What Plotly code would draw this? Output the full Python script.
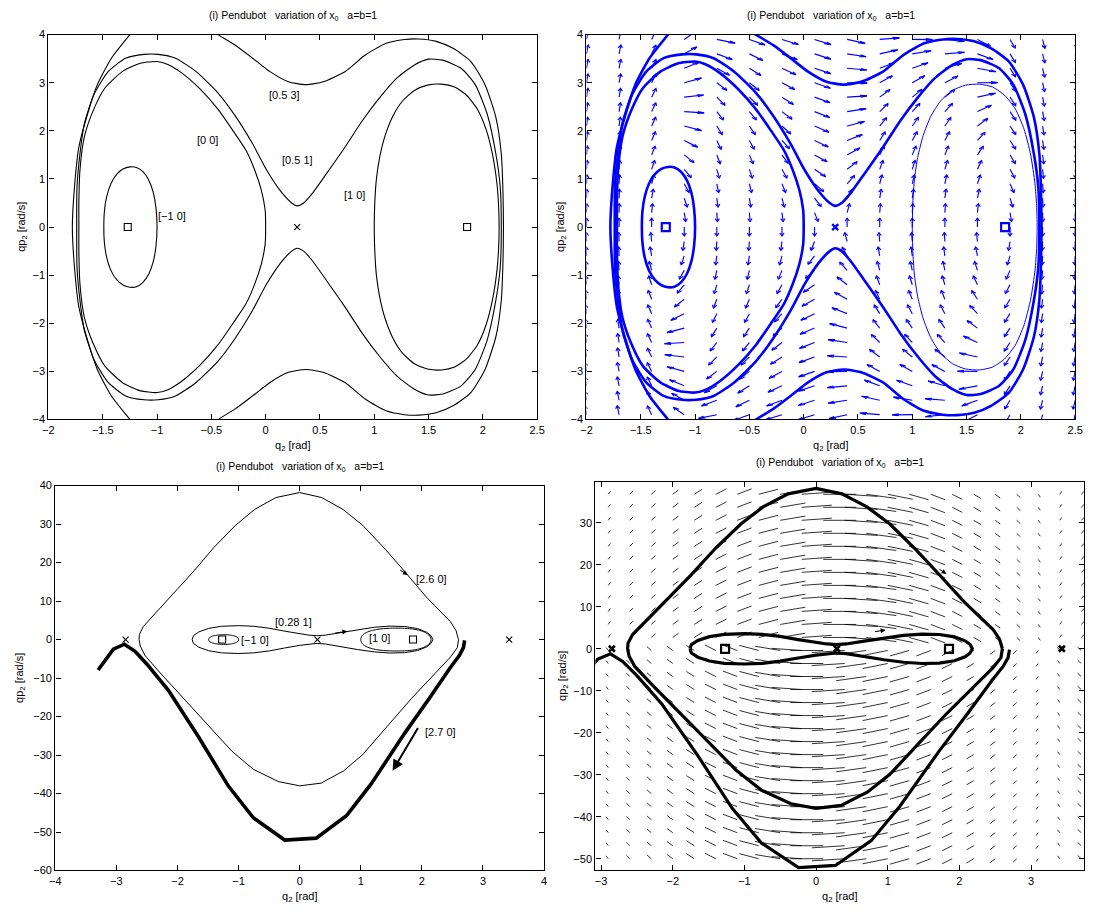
import math
import plotly.graph_objects as go

FIG_W, FIG_H = 1097, 914
FONT = "Liberation Sans, Arial, Helvetica, sans-serif"
BLUE = "#0000ff"
BLACK = "#000000"
NB = "\u00a0"

TITLE = "(i) Pendubot" + NB * 3 + "variation of x<sub>0</sub>" + NB * 3 + "a=b=1"
XLABEL = "q<sub>2</sub> [rad]"
YLABEL = "qp<sub>2</sub> [rad/s]"

# ---------------------------------------------------------------------------
# Phase-plane orbits, q2 [rad] vs qp2 [rad/s], labelled by initial state x0
# ---------------------------------------------------------------------------
# x0 = [-1 0]
orb_m10_q = [-1.0, -1.01, -1.035, -1.075, -1.13, -1.19, -1.25, -1.31, -1.37, -1.425, -1.465, -1.485, -1.49,
             -1.485, -1.465, -1.425, -1.37, -1.31, -1.25, -1.19, -1.13, -1.075, -1.035, -1.01, -1.0]
orb_m10_p = [0, 0.4, 0.72, 0.97, 1.15, 1.24, 1.25, 1.21, 1.10, 0.9, 0.62, 0.32, 0,
             -0.32, -0.62, -0.9, -1.10, -1.21, -1.25, -1.24, -1.15, -0.97, -0.72, -0.4, 0]

# x0 = [0 0]
orb_00_q = [0.0, -0.005, -0.04, -0.10, -0.18, -0.30, -0.44, -0.60, -0.77, -0.90, -1.0, -1.16, -1.32, -1.48, -1.59, -1.67,
            -1.71, -1.72, -1.72,
            -1.72, -1.71, -1.67, -1.59, -1.48, -1.32, -1.16, -1.0, -0.90, -0.77, -0.60, -0.44, -0.30, -0.18, -0.10,
            -0.04, -0.005, 0.0]
orb_00_p = [0, 0.36, 0.77, 1.18, 1.59, 2.0, 2.45, 2.86, 3.2, 3.38, 3.44, 3.40, 3.23, 2.89, 2.41, 1.87, 1.18, 0.5, 0,
            -0.5, -1.18, -1.87, -2.41, -2.89, -3.23, -3.40, -3.44, -3.38, -3.2, -2.86, -2.45, -2.0, -1.59, -1.18,
            -0.77, -0.36, 0]

# x0 = [0.5 1]
orb_051_q = [-1.74, -1.737, -1.71, -1.67, -1.58, -1.45, -1.29, -1.12, -0.99, -0.83, -0.64, -0.44, -0.28, -0.12, 0.01,
             0.14, 0.24, 0.29, 0.35, 0.43, 0.56, 0.73, 0.89, 1.05, 1.21, 1.37, 1.50, 1.63, 1.80, 1.93, 2.04, 2.12,
             2.16, 2.17,
             2.16, 2.12, 2.04, 1.93, 1.80, 1.63, 1.50, 1.37, 1.21, 1.05, 0.89, 0.73, 0.56, 0.43, 0.35, 0.29, 0.24,
             0.14, 0.01, -0.12, -0.28, -0.44, -0.64, -0.83, -0.99, -1.12, -1.29, -1.45, -1.58, -1.67, -1.71, -1.737,
             -1.74]
orb_051_p = [0, 0.84, 1.52, 2.14, 2.76, 3.23, 3.51, 3.59, 3.59, 3.51, 3.23, 2.79, 2.31, 1.73, 1.18, 0.74, 0.50, 0.44,
             0.50, 0.70, 1.11, 1.66, 2.21, 2.69, 3.10, 3.37, 3.49, 3.47, 3.30, 2.96, 2.35, 1.52, 0.84, 0,
             -0.84, -1.52, -2.35, -2.96, -3.30, -3.47, -3.49, -3.37, -3.10, -2.69, -2.21, -1.66, -1.11, -0.70, -0.50,
             -0.44, -0.50, -0.74, -1.18, -1.73, -2.31, -2.79, -3.23, -3.51, -3.59, -3.59, -3.51, -3.23, -2.76, -2.14,
             -1.52, -0.84, 0]

# x0 = [0.5 3] (leaves the window at the top and bottom)
orb_053a_q = [-1.18, -1.25, -1.42, -1.55, -1.64, -1.72, -1.76, -1.78, -1.76, -1.72, -1.64, -1.55, -1.42, -1.25, -1.18]
orb_053a_p = [4.2, 4.0, 3.51, 2.96, 2.35, 1.66, 0.84, 0, -0.84, -1.66, -2.35, -2.96, -3.51, -4.0, -4.2]
orb_053b_q = [-0.58, -0.44, -0.28, -0.12, 0.04, 0.21, 0.37, 0.53, 0.73, 0.92, 1.11, 1.28, 1.41, 1.57, 1.73, 1.89,
              2.02, 2.12, 2.17, 2.185, 2.19,
              2.185, 2.17, 2.12, 2.02, 1.89, 1.73, 1.57, 1.41, 1.28, 1.11, 0.92, 0.73, 0.53, 0.37, 0.21, 0.04, -0.12,
              -0.28, -0.44, -0.58]
orb_053b_p = [4.2, 4.0, 3.78, 3.51, 3.23, 3.02, 2.96, 3.02, 3.23, 3.58, 3.82, 3.90, 3.91, 3.86, 3.71, 3.44, 2.96,
              2.28, 1.52, 0.77, 0,
              -0.77, -1.52, -2.28, -2.96, -3.44, -3.71, -3.86, -3.91, -3.90, -3.82, -3.58, -3.23, -3.02, -2.96, -3.02,
              -3.23, -3.51, -3.78, -4.0, -4.2]

# x0 = [1 0]
orb_10_q = [1.0, 1.005, 1.02, 1.05, 1.10, 1.17, 1.26, 1.37, 1.49, 1.62, 1.74, 1.85, 1.95, 2.03, 2.09, 2.13, 2.145, 2.15,
            2.145, 2.13, 2.09, 2.03, 1.95, 1.85, 1.74, 1.62, 1.49, 1.37, 1.26, 1.17, 1.10, 1.05, 1.02, 1.005, 1.0]
orb_10_p = [0, 0.5, 1.0, 1.45, 1.9, 2.3, 2.62, 2.84, 2.95, 2.97, 2.91, 2.74, 2.45, 2.03, 1.5, 0.9, 0.45, 0,
            -0.45, -0.9, -1.5, -2.03, -2.45, -2.74, -2.91, -2.97, -2.95, -2.84, -2.62, -2.3, -1.9, -1.45, -1.0, -0.5, 0]

# x0 = [0.28 1]
orb_281_q = [-1.76, -1.74, -1.65, -1.49, -1.28, -1.0, -0.75, -0.5, -0.25, 0.0, 0.15, 0.28, 0.42, 0.65, 0.95, 1.22,
             1.48, 1.72, 1.93, 2.08, 2.15, 2.18,
             2.15, 2.08, 1.93, 1.72, 1.48, 1.22, 0.95, 0.65, 0.42, 0.28, 0.15, 0.0, -0.25, -0.5, -0.75, -1.0, -1.28,
             -1.49, -1.65, -1.74, -1.76]
orb_281_p = [0, 1.0, 2.0, 2.9, 3.45, 3.62, 3.45, 2.95, 2.2, 1.5, 1.15, 1.0, 1.15, 1.75, 2.6, 3.2, 3.5, 3.4, 2.85,
             1.9, 1.0, 0,
             -1.0, -1.9, -2.85, -3.4, -3.5, -3.2, -2.6, -1.75, -1.15, -1.0, -1.15, -1.5, -2.2, -2.95, -3.45, -3.62,
             -3.45, -2.9, -2.0, -1.0, 0]

# x0 = [2.6 0]
orb_260_q = [2.60, 2.56, 2.47, 2.30, 2.07, 1.75, 1.40, 1.03, 0.71, 0.36, 0.0, -0.39, -0.74, -1.05, -1.40, -1.75,
             -2.09, -2.38, -2.56, -2.625, -2.63, -2.61, -2.53, -2.27, -1.92, -1.52, -1.11, -0.76, -0.35, 0.0, 0.35,
             0.72, 1.03, 1.43, 1.83, 2.21, 2.47, 2.58, 2.60]
orb_260_p = [0.0, 2.3, 4.6, 7.3, 11.1, 17.1, 23.5, 29.7, 33.8, 36.9, 38.2, 36.9, 33.8, 29.7, 24.0, 17.5, 11.6, 6.4,
             3.4, 1.3, 0.0, -1.7, -4.2, -8.9, -14.9, -21.7, -29.0, -33.7, -36.9, -38.0, -37.3, -34.1, -29.9, -22.6,
             -15.3, -8.9, -4.5, -2.1, 0.0]

# x0 = [2.7 0] (escaping trajectory)
orb_270_q = [2.70, 2.68, 2.61, 2.47, 2.12, 1.72, 1.17, 0.77, 0.27, -0.245, -0.76, -1.17, -1.66, -2.15, -2.50, -2.70,
             -2.87, -3.05, -3.30]
orb_270_p = [-0.2, -2.1, -4.2, -7.2, -15.3, -24.3, -37.5, -45.7, -51.6, -52.1, -46.3, -38.0, -25.2, -13.2, -6.4,
             -3.0, -1.2, -2.5, -7.9]

# Equilibria
centre_q = [-1.27, 1.855]
centre_p = [0, 0]
saddle_q = [0.29]
saddle_p = [0]
saddles_wide_q = [-2.85, 0.29, 3.43]
saddles_wide_p = [0, 0, 0]

# ---------------------------------------------------------------------------
# Direction field, upper right panel: qdot = qp, qpdot = F(q) + C(q) qp^2
# ---------------------------------------------------------------------------
tr_cols = [-2.0, -1.7, -1.4, -1.1, -0.8, -0.5, -0.2, 0.1, 0.4, 0.7, 1.0, 1.3, 1.6, 1.9, 2.2, 2.5]
tr_rows = [-3.9, -3.6, -3.3, -3.0, -2.7, -2.4, -2.1, -1.8, -1.5, -1.2, -0.9, -0.6, -0.3, 0.0,
           0.3, 0.6, 0.9, 1.2, 1.5, 1.8, 2.1, 2.4, 2.7, 3.0, 3.3, 3.6, 3.9]
tr_F = [35, 30, 7, -4.2, -10, -8.6, -5, -1.7, 2.5, 8, 9.5, 10, 6.8, -4, -25, -30]
tr_C = [0.68, 0.74, 0.74, 0.67, 0.54, 0.36, 0.15, -0.07, -0.29, -0.48, -0.63, -0.72, -0.75, -0.71, -0.61, -0.45]
TR_ARROW_LEN = 0.185

# Direction field, lower right panel: segment extent per column (upper half plane)
br_cols = [-2.9, -2.6, -2.3, -2.0, -1.7, -1.4, -1.1, -0.8, -0.5, -0.2, 0.1, 0.4, 0.7, 1.0, 1.3, 1.6, 1.9, 2.2,
           2.5, 2.8, 3.1, 3.4, 3.7]
br_rows = [-50.0, -46.9, -43.8, -40.7, -37.6, -34.5, -31.4, -28.3, -25.2, -22.1, -19.0, -15.9, -12.8, -9.7, -6.6,
           -3.5, -0.4, 2.7, 5.8, 8.9, 12.0, 15.1, 18.2, 21.3, 24.4, 27.5, 30.6, 33.7, 36.8]
br_dq = [0.03, 0.045, 0.06, 0.08, 0.11, 0.15, 0.2, 0.27, 0.35, 0.42, 0.46, 0.46, 0.42, 0.35, 0.27, 0.2, 0.14, 0.1,
         0.07, 0.05, 0.03, 0.03, 0.05]
br_dp = [0.7, 0.8, 0.9, 1.0, 1.2, 1.3, 1.3, 1.2, 1.0, 0.5, 0.0, -0.5, -1.0, -1.2, -1.3, -1.3, -1.2, -1.0, -0.9,
         -0.8, -0.7, 0.7, 0.8]

# ---------------------------------------------------------------------------
# Panel geometry (pixels in the 1097 x 914 canvas)
# ---------------------------------------------------------------------------
PANELS = {
    "tl": dict(px=(43, 538), py=(29, 419), xr=[-2, 2.5], yr=[-4, 4], xd=0.5, yd=1, ylab=16),
    "tr": dict(px=(588, 1083), py=(29, 419), xr=[-2, 2.5], yr=[-4, 4], xd=0.5, yd=1, ylab=562),
    "bl": dict(px=(50, 545), py=(486, 876), xr=[-4, 4], yr=[-60, 40], xd=1, yd=10, ylab=14),
    "br": dict(px=(597, 1092), py=(482, 876), xr=[-3.08, 3.74], yr=[-52.8, 39.8], xd=1, yd=10, ylab=564),
}
AXIS_IDS = {"tl": "", "tr": "2", "bl": "3", "br": "4"}


def px_x(v):
    return v / FIG_W


def px_y(v):
    return 1 - v / FIG_H


def ref(panel):
    k = AXIS_IDS[panel]
    return "x" + k, "y" + k


fig = go.Figure()


def line(panel, q, p, color=BLACK, width=1.0, shape="linear"):
    xa, ya = ref(panel)
    fig.add_trace(go.Scatter(x=q, y=p, mode="lines", xaxis=xa, yaxis=ya,
                             line=dict(color=color, width=width, shape=shape, smoothing=0.6),
                             hoverinfo="skip", showlegend=False))


def marks(panel, q, p, symbol, size, color=BLACK, width=1.0):
    xa, ya = ref(panel)
    fig.add_trace(go.Scatter(x=q, y=p, mode="markers", xaxis=xa, yaxis=ya,
                             marker=dict(symbol=symbol, size=size, color=color,
                                         line=dict(color=color, width=width)),
                             hoverinfo="skip", showlegend=False))


def label(panel, q, p, text, size=11):
    xa, ya = ref(panel)
    fig.add_annotation(x=q, y=p, xref=xa, yref=ya, text=text, showarrow=False,
                       xanchor="center", yanchor="middle",
                       font=dict(family=FONT, size=size, color=BLACK))


def arrow(panel, q0, p0, q1, p1, width=1.0, size=1.0):
    xa, ya = ref(panel)
    fig.add_annotation(x=q1, y=p1, ax=q0, ay=p0, xref=xa, yref=ya, axref=xa, ayref=ya,
                       text="", showarrow=True, arrowhead=2, arrowsize=size, arrowwidth=width,
                       arrowcolor=BLACK, standoff=0, startstandoff=0)


# ---------------- upper left: orbits for several x0 ----------------
for q, p in [(orb_m10_q, orb_m10_p), (orb_00_q, orb_00_p), (orb_051_q, orb_051_p),
             (orb_053a_q, orb_053a_p), (orb_053b_q, orb_053b_p), (orb_10_q, orb_10_p)]:
    line("tl", q, p, BLACK, 1.1, "spline")
marks("tl", centre_q, centre_p, "square-open", 7, BLACK, 1.1)
marks("tl", saddle_q, saddle_p, "x-thin-open", 6, BLACK, 1.1)
label("tl", 0.17, 2.74, "[0.5 3]")
label("tl", -0.54, 1.80, "[0 0]")
label("tl", 0.29, 1.39, "[0.5 1]")
label("tl", 0.82, 0.66, "[1 0]")
label("tl", -0.86, 0.23, "[\u22121 0]")

# ---------------- upper right: orbits with direction field ----------------
qx, qy = [], []
ha, hb = 0.33, 0.33
for q0, F, C in zip(tr_cols, tr_F, tr_C):
    for p0 in tr_rows:
        u, v = p0, F + C * p0 * p0
        n = math.hypot(u, v) or 1.0
        du, dv = TR_ARROW_LEN * u / n, TR_ARROW_LEN * v / n
        tx, ty = q0 + du, p0 + dv
        qx += [q0, tx, None, tx - ha * (du + hb * dv), tx, tx - ha * (du - hb * dv), None]
        qy += [p0, ty, None, ty - ha * (dv - hb * du), ty, ty - ha * (dv + hb * du), None]
line("tr", qx, qy, BLUE, 1.15)
for q, p in [(orb_m10_q, orb_m10_p), (orb_00_q, orb_00_p), (orb_051_q, orb_051_p),
             (orb_053a_q, orb_053a_p), (orb_053b_q, orb_053b_p)]:
    line("tr", q, p, BLUE, 2.6, "spline")
line("tr", orb_10_q, orb_10_p, BLUE, 1.0, "spline")
marks("tr", centre_q, centre_p, "square-open", 8, BLUE, 2.2)
marks("tr", saddle_q, saddle_p, "x-thin-open", 6, BLUE, 2.4)

# ---------------- lower left: large-amplitude orbits ----------------
for q, p in [(orb_m10_q, orb_m10_p), (orb_10_q, orb_10_p)]:
    line("bl", q, p, BLACK, 1.0, "spline")
for q, p in [(orb_281_q, orb_281_p), (orb_260_q, orb_260_p)]:
    line("bl", q, p, BLACK, 1.0)
line("bl", orb_270_q, orb_270_p, BLACK, 3.6)
marks("bl", centre_q, centre_p, "square-open", 7, BLACK, 1.1)
marks("bl", saddles_wide_q, saddles_wide_p, "x-thin-open", 6, BLACK, 1.1)
arrow("bl", 1.62, 18.3, 1.77, 16.8, 1.0, 1.0)
arrow("bl", 0.55, 1.6, 0.78, 2.15, 1.0, 1.0)
arrow("bl", 1.95, -22.6, 1.52, -34.1, 2.0, 1.1)
label("bl", 2.16, 15.7, "[2.6 0]")
label("bl", -0.1, 4.65, "[0.28 1]")
label("bl", -0.73, 0.0, "[\u22121 0]")
label("bl", 1.30, 0.3, "[1 0]")
label("bl", 2.30, -24.1, "[2.7 0]")

# ---------------- lower right: orbits with direction field ----------------
sx, sy = [], []
for q0, dq, dp in zip(br_cols, br_dq, br_dp):
    for p0 in br_rows:
        s = 1.0 if p0 > 0 else -1.0
        sx += [q0, q0 + s * dq, None]
        sy += [p0, p0 + dp, None]
line("br", sx, sy, BLACK, 0.8)
for q, p in [(orb_281_q, orb_281_p), (orb_260_q, orb_260_p), (orb_270_q, orb_270_p)]:
    line("br", q, p, BLACK, 3.2)
marks("br", centre_q, centre_p, "square-open", 8, BLACK, 2.2)
marks("br", saddles_wide_q, saddles_wide_p, "x-thin-open", 6, BLACK, 2.6)
arrow("br", 1.7, 19.2, 1.82, 17.8, 1.0, 1.0)
arrow("br", 0.8, 4.0, 0.97, 4.5, 1.0, 1.0)

# ---------------- axes, titles and labels ----------------
layout_axes = {}
for key, pnl in PANELS.items():
    k = AXIS_IDS[key]
    common = dict(showline=True, linecolor=BLACK, linewidth=1.3, mirror="ticks", ticks="inside", ticklen=5,
                  tickcolor=BLACK, tickwidth=1, showgrid=False, zeroline=False,
                  tickfont=dict(family=FONT, size=11, color=BLACK))
    layout_axes["xaxis" + k] = dict(common, domain=[px_x(pnl["px"][0]), px_x(pnl["px"][1])], range=pnl["xr"],
                                    dtick=pnl["xd"], tick0=0, anchor="y" + k)
    layout_axes["yaxis" + k] = dict(common, domain=[px_y(pnl["py"][1]), px_y(pnl["py"][0])], range=pnl["yr"],
                                    dtick=pnl["yd"], tick0=0, anchor="x" + k)
    cx = (pnl["px"][0] + pnl["px"][1]) / 2
    cy = (pnl["py"][0] + pnl["py"][1]) / 2
    fig.add_annotation(x=px_x(cx), y=px_y(pnl["py"][0] - 19), xref="paper", yref="paper", text=TITLE,
                       xanchor="center", yanchor="middle", showarrow=False,
                       font=dict(family=FONT, size=10.5, color=BLACK))
    fig.add_annotation(x=px_x(cx), y=px_y(pnl["py"][1] + 27), xref="paper", yref="paper", text=XLABEL,
                       xanchor="center", yanchor="middle", showarrow=False,
                       font=dict(family=FONT, size=11, color=BLACK))
    fig.add_annotation(x=px_x(pnl["ylab"]), y=px_y(cy), xref="paper", yref="paper", text=YLABEL,
                       textangle=-90, xanchor="center", yanchor="middle", showarrow=False,
                       font=dict(family=FONT, size=11, color=BLACK))

fig.update_layout(width=FIG_W, height=FIG_H, margin=dict(l=0, r=0, t=0, b=0),
                  paper_bgcolor="white", plot_bgcolor="white", showlegend=False, **layout_axes)

fig.write_html("out.html")
